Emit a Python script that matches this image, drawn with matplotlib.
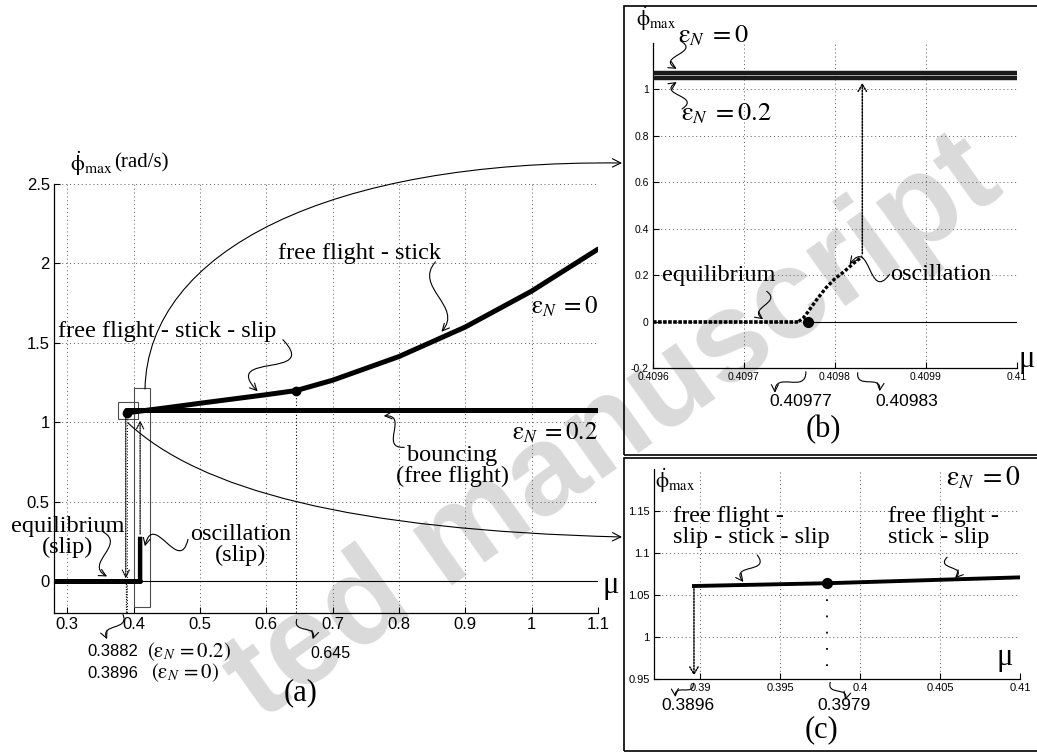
import numpy as np
import matplotlib.pyplot as plt
from matplotlib.patches import FancyArrowPatch, Rectangle
from matplotlib.path import Path

plt.rcParams['font.family'] = 'Liberation Sans'
plt.rcParams['mathtext.fontset'] = 'stix'
SERIF = 'Liberation Serif'

W, H = 1037, 754

# ---- panel (a): max angular velocity over the friction coefficient ----
mu_eq = [0.28, 0.40976]
phi_eq = [0.0, 0.0]
mu_osc = [0.40976, 0.409765, 0.40977, 0.40978, 0.40979, 0.40980, 0.40981, 0.40982, 0.40983]
phi_osc = [0.0, 0.015, 0.04, 0.095, 0.145, 0.185, 0.215, 0.25, 0.28]
mu_eps0 = [0.3896, 0.42, 0.45, 0.5, 0.55, 0.6, 0.645, 0.7, 0.8, 0.9, 1.0, 1.1]
phi_eps0 = [1.06, 1.076, 1.092, 1.120, 1.147, 1.174, 1.20, 1.265, 1.414, 1.60, 1.826, 2.09]
mu_eps02 = [0.3882, 1.1]
phi_eps02 = [1.075, 1.075]
mu_switch, phi_switch = 0.645, 1.20
a_xticks = [0.3, 0.4, 0.5, 0.6, 0.7, 0.8, 0.9, 1.0, 1.1]
a_xlabels = ['0.3', '0.4', '0.5', '0.6', '0.7', '0.8', '0.9', '1', '1.1']
a_yticks = [0, 0.5, 1, 1.5, 2, 2.5]
a_ylabels = ['0', '0.5', '1', '1.5', '2', '2.5']

# ---- panel (b): zoom on the onset of oscillation ----
mu_b = [0.4096, 0.41]
phi_b_eps0 = [1.07, 1.07]
phi_b_eps02 = [1.05, 1.05]
mu_b_eq = [0.4096, 0.40976]
mu_hopf = 0.40977
mu_jump = 0.40983
b_xticks = [0.4096, 0.4097, 0.4098, 0.4099, 0.41]
b_xlabels = ['0.4096', '0.4097', '0.4098', '0.4099', '0.41']
b_yticks = [-0.2, 0, 0.2, 0.4, 0.6, 0.8, 1.0]
b_ylabels = ['-0.2', '0', '0.2', '0.4', '0.6', '0.8', '1']

# ---- panel (c): zoom on the start of the eps_N = 0 branch ----
mu_c = [0.3896, 0.3979, 0.41]
phi_c = [1.0607, 1.064, 1.071]
c_xticks = [0.39, 0.395, 0.4, 0.405, 0.41]
c_xlabels = ['0.39', '0.395', '0.4', '0.405', '0.41']
c_yticks = [0.95, 1.0, 1.05, 1.1, 1.15]
c_ylabels = ['0.95', '1', '1.05', '1.1', '1.15']

PHI = r'$\mathrm{\dot{\phi}}_{\mathrm{max}}$'
EPS0 = r'$\mathrm{\varepsilon}_{N}\;=0$'
EPS02 = r'$\mathrm{\varepsilon}_{N}\;=0.2$'

fig = plt.figure(figsize=(W / 100, H / 100), dpi=100)


def fxy(x, y):
    # pixel position measured from the top-left corner -> figure fraction
    return x / W, 1 - y / H


def style(ax, xlim, ylim, xt, xtl, yt, ytl, fs):
    ax.set_xlim(xlim)
    ax.set_ylim(ylim)
    ax.set_xticks(xt, xtl)
    ax.set_yticks(yt, ytl)
    for s in ('top', 'right'):
        ax.spines[s].set_visible(False)
    for s in ('left', 'bottom'):
        ax.spines[s].set_linewidth(0.9)
    ax.tick_params(direction='in', length=4, width=0.8, labelsize=fs, pad=3)
    ax.grid(True, linestyle=(0, (1, 3)), color='0.35', linewidth=0.7)
    ax.set_axisbelow(True)
    ax.set_facecolor('none')


def squiggle(ax, tail, tip, amp=0.7):
    # wavy leader line ending in an open arrow head
    p0 = ax.transData.transform(tail)
    p3 = ax.transData.transform(tip)
    d = p3 - p0
    n = np.array([-d[1], d[0]])
    c1 = p0 + d / 3 + n * amp
    c2 = p0 + 2 * d / 3 - n * amp
    verts = fig.transFigure.inverted().transform(np.array([p0, c1, c2, p3]))
    path = Path(verts, [Path.MOVETO, Path.CURVE4, Path.CURVE4, Path.CURVE4])
    fig.add_artist(FancyArrowPatch(path=path, transform=fig.transFigure,
                                   arrowstyle='->,head_length=5,head_width=2.5',
                                   lw=0.8, color='k'))


def big_arrow(pts):
    verts = [fxy(*p) for p in pts]
    path = Path(verts, [Path.MOVETO, Path.CURVE4, Path.CURVE4, Path.CURVE4])
    fig.add_artist(FancyArrowPatch(path=path, transform=fig.transFigure,
                                   arrowstyle='->,head_length=6,head_width=3',
                                   lw=0.8, color='k'))


def label(x, y, s, size=17.5, family=SERIF, **kw):
    fig.text(*fxy(x, y), s, fontsize=size, family=family, va='center', **kw)


# watermark behind everything
fig.text(*fxy(614, 430), 'ted manuscript', rotation=35.4, rotation_mode='anchor',
         fontsize=92, weight='bold', color='#dadada', ha='center', va='center',
         family='Liberation Sans', zorder=-1)

# ================= (a) =================
ax_a = fig.add_axes([54 / W, 1 - 613 / H, (598 - 54) / W, (613 - 184) / H])
style(ax_a, (0.28, 1.1), (-0.2, 2.5), a_xticks, a_xlabels, a_yticks, a_ylabels, 12)

ax_a.plot([mu_hopf, 1.1], [0, 0], color='k', lw=0.8, zorder=2)
ax_a.plot(mu_eq, phi_eq, color='k', lw=3.6, solid_capstyle='round', zorder=3)
ax_a.plot(mu_osc, phi_osc, color='k', lw=3.2, solid_capstyle='butt', zorder=3)
ax_a.plot(mu_eps0, phi_eps0, color='k', lw=3.6, solid_capstyle='round', zorder=3)
ax_a.plot(mu_eps02, phi_eps02, color='k', lw=3.6, solid_capstyle='round', zorder=3)
ax_a.plot([mu_switch], [phi_switch], 'ko', ms=6, zorder=4)
ax_a.plot([mu_eps0[0]], [phi_eps0[0]], 'ko', ms=6, zorder=4)

# zoom windows
ax_a.add_patch(Rectangle((0.3767, 1.019), 0.030, 0.107, fill=False, lw=0.8,
                         ec='0.3', zorder=1.5))
ax_a.add_patch(Rectangle((0.4007, -0.164), 0.0243, 1.378, fill=False, lw=0.8,
                         ec='0.3', zorder=1.5))

# dotted guides
ax_a.annotate('', xy=(mu_eps02[0], 0.0), xytext=(mu_eps02[0], phi_eps02[0]),
              arrowprops=dict(arrowstyle='->,head_length=0.5,head_width=0.25',
                              linestyle=(0, (1, 1)), lw=0.9, color='k'))
ax_a.plot([mu_eps02[0], mu_eps02[0]], [0, -0.2], color='k', lw=0.9,
          linestyle=(0, (1, 1)), clip_on=False)
ax_a.plot([mu_eps0[0], mu_eps0[0]], [phi_eps0[0], -0.2], color='k', lw=0.7,
          linestyle=(0, (1, 2)))
ax_a.annotate('', xy=(mu_jump, 1.03), xytext=(mu_jump, phi_osc[-1]),
              arrowprops=dict(arrowstyle='->,head_length=0.5,head_width=0.25',
                              linestyle=(0, (1, 1)), lw=0.9, color='k'))
ax_a.plot([mu_switch, mu_switch], [phi_switch, -0.2], color='k', lw=0.8,
          linestyle=(0, (1, 2)))

squiggle(ax_a, (0.625, 1.52), (0.587, 1.195), amp=0.9)
squiggle(ax_a, (0.855, 2.01), (0.864, 1.57), amp=-0.35)
squiggle(ax_a, (0.808, 0.843), (0.777, 1.04), amp=0.6)
squiggle(ax_a, (0.354, 0.31), (0.36, 0.03), amp=0.5)
squiggle(ax_a, (0.482, 0.264), (0.417, 0.22), amp=0.8)
squiggle(ax_a, (0.384, -0.21), (0.36, -0.365), amp=0.5)
squiggle(ax_a, (0.646, -0.24), (0.67, -0.365), amp=-0.5)

fig.text(*fxy(70, 164), PHI, fontsize=16, va='center')
label(114, 163, '(rad/s)', size=15)
label(278, 253, 'free flight - stick')
label(58, 332, 'free flight - stick - slip')
fig.text(*fxy(598, 307), EPS0, fontsize=18, ha='right', va='center')
fig.text(*fxy(598, 433), EPS02, fontsize=18, ha='right', va='center')
label(452, 466, 'bouncing\n(free flight)', ha='center', linespacing=1.05)
label(68, 537, 'equilibrium\n(slip)', ha='center', linespacing=1.05)
label(241, 545, 'oscillation\n(slip)', ha='center', linespacing=1.05)
label(611, 586, 'μ', size=22, ha='center')
label(87, 652, '0.3882', size=12, family='Liberation Sans')
label(87, 673, '0.3896', size=12, family='Liberation Sans')
fig.text(*fxy(147, 652), r'$(\mathrm{\varepsilon}_{N}\,=0.2)$', fontsize=15, va='center')
fig.text(*fxy(151, 673), r'$(\mathrm{\varepsilon}_{N}\,=0)$', fontsize=15, va='center')
label(310, 653, '0.645', size=11.5, family='Liberation Sans')
label(301, 693, '(a)', size=22, ha='center')

# ================= (b) =================
ax_b = fig.add_axes([653 / W, 1 - 368 / H, (1017 - 653) / W, (368 - 43) / H])
style(ax_b, (0.4096, 0.41), (-0.2, 1.2), b_xticks, b_xlabels, b_yticks, b_ylabels, 7.5)

ax_b.plot([mu_hopf, 0.41], [0, 0], color='k', lw=0.8, zorder=2)
ax_b.plot(mu_b, phi_b_eps0, color='0.1', lw=3.2, zorder=3)
ax_b.plot(mu_b, phi_b_eps02, color='0.1', lw=3.2, zorder=3)
ax_b.plot(mu_b_eq, [0, 0], color='k', lw=2.6, linestyle=(0, (1, 0.4)), zorder=3)
ax_b.plot(mu_osc, phi_osc, color='k', lw=2.4, linestyle=(0, (1, 0.6)), zorder=3)
ax_b.plot([mu_hopf], [0], 'ko', ms=7, zorder=4)
ax_b.annotate('', xy=(mu_jump, 1.04), xytext=(mu_jump, phi_osc[-1]),
              arrowprops=dict(arrowstyle='->,head_length=0.5,head_width=0.3',
                              linestyle=(0, (1, 1)), lw=1.1, color='k'))

squiggle(ax_b, (0.409630, 1.21), (0.409626, 1.089), amp=0.8)
squiggle(ax_b, (0.409632, 0.916), (0.409626, 1.032), amp=-0.8)
squiggle(ax_b, (0.409725, 0.13), (0.409721, 0.01), amp=0.6)
squiggle(ax_b, (0.409860, 0.203), (0.409816, 0.246), amp=0.8)
squiggle(ax_b, (0.409768, -0.216), (0.409734, -0.307), amp=0.5)
squiggle(ax_b, (0.409825, -0.22), (0.409849, -0.30), amp=-0.5)

fig.text(*fxy(636, 19), PHI, fontsize=15, va='center')
fig.text(*fxy(678, 36), EPS0, fontsize=19, va='center')
fig.text(*fxy(681, 114), EPS02, fontsize=19, va='center')
label(662, 275, 'equilibrium')
label(890, 275, 'oscillation')
label(1027, 359, 'μ', size=22, ha='center')
label(801, 402, '0.40977', size=12.5, family='Liberation Sans', ha='center')
label(907, 402, '0.40983', size=12.5, family='Liberation Sans', ha='center')
label(823, 430, '(b)', size=22, ha='center')

# ================= (c) =================
ax_c = fig.add_axes([654 / W, 1 - 679 / H, (1020 - 654) / W, (679 - 469) / H])
style(ax_c, (0.3871, 0.41), (0.95, 1.2), c_xticks, c_xlabels, c_yticks, c_ylabels, 8)

ax_c.plot(mu_c, phi_c, color='k', lw=2.8, zorder=3)
ax_c.plot([mu_c[1]], [phi_c[1]], 'ko', ms=7, zorder=4)
ax_c.annotate('', xy=(mu_c[0], 0.951), xytext=(mu_c[0], phi_c[0]),
              arrowprops=dict(arrowstyle='->,head_length=0.5,head_width=0.3',
                              linestyle=(0, (1, 1)), lw=1.1, color='k'))
ax_c.plot([mu_c[1], mu_c[1]], [phi_c[1], 0.95], color='k', lw=1.3,
          linestyle=(0, (1, 8)))

squiggle(ax_c, (0.39356, 1.0976), (0.39269, 1.0655), amp=0.7)
squiggle(ax_c, (0.40544, 1.095), (0.40594, 1.070), amp=-0.7)
squiggle(ax_c, (0.38956, 0.945), (0.38844, 0.9286), amp=0.5)
squiggle(ax_c, (0.39813, 0.946), (0.39906, 0.925), amp=-0.5)

fig.text(*fxy(655, 481), PHI, fontsize=15, va='center')
fig.text(*fxy(1020, 478), EPS0, fontsize=20, ha='right', va='center')
label(673, 527, 'free flight -\nslip - stick - slip', ha='left', linespacing=1.0)
label(888, 527, 'free flight -\nstick - slip', ha='left', linespacing=1.0)
label(1005, 658, 'μ', size=22, ha='center')
label(688, 705, '0.3896', size=12.5, family='Liberation Sans', ha='center')
label(844, 705, '0.3979', size=12.5, family='Liberation Sans', ha='center')
label(821, 730, '(c)', size=22, ha='center')

# frames around the two zoom panels
fig.add_artist(Rectangle(fxy(624, 455), (1045 - 624) / W, (455 - 6) / H,
                         transform=fig.transFigure, fill=False, lw=1.2, ec='k'))
fig.add_artist(Rectangle(fxy(624, 751), (1045 - 624) / W, (751 - 458) / H,
                         transform=fig.transFigure, fill=False, lw=1.2, ec='k'))

# leaders from the zoom windows in (a) to panels (b) and (c)
big_arrow([(145, 389), (148, 250), (330, 160), (622, 163)])
big_arrow([(128, 423), (200, 490), (350, 530), (622, 537)])

fig.savefig('out.png', dpi=100)
